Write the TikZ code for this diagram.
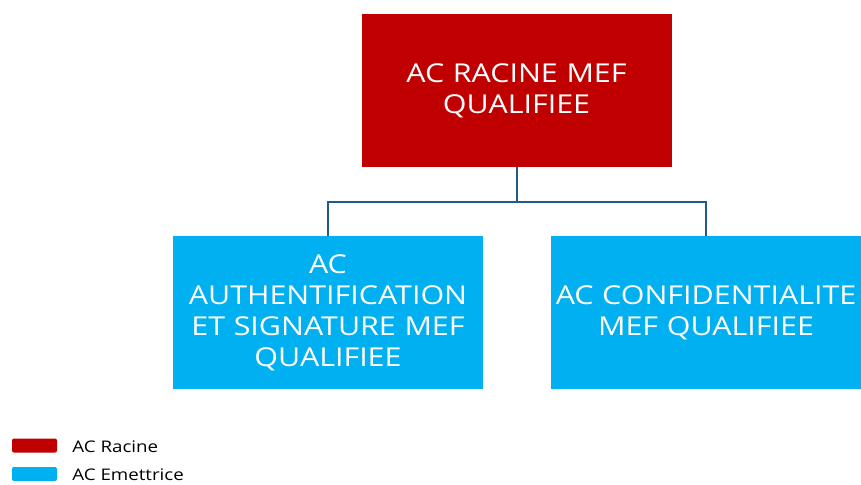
\documentclass[tikz,border=0pt]{standalone}
\usepackage{fontspec}
\setmainfont{Open Sans}[FakeStretch=1.17]
\usetikzlibrary{positioning}
\definecolor{racine}{HTML}{C00000}
\definecolor{emettrice}{HTML}{00B0F0}
\definecolor{linkblue}{HTML}{1F5A88}

\begin{document}
\begin{tikzpicture}[
    x=1pt, y=1pt,
    node distance=69pt,
    box/.style={rectangle, minimum width=310pt, minimum height=153pt, text width=310pt, align=center, text=white, font=\fontsize{26}{31}\selectfont, inner sep=0pt},
    swatch/.style={rectangle, rounded corners=2pt, minimum width=45pt, minimum height=14pt, inner sep=0pt},
    legtext/.style={right=15pt, yshift=-1pt, font=\fontsize{16}{19}\selectfont, inner sep=0pt},
    link/.style={draw=linkblue, line width=2pt}
]
\useasboundingbox (0,0) rectangle (861,-484);

\node[box, fill=racine] (root) at (516.5,-90.5) {AC RACINE MEF\\QUALIFIEE};
\node[box, fill=emettrice, below=of root, xshift=-188.5pt] (auth) {AC\\AUTHENTIFICATION\\ET SIGNATURE MEF\\QUALIFIEE};
\node[box, fill=emettrice, below=of root, xshift=189.5pt] (conf) {AC CONFIDENTIALITE\\MEF QUALIFIEE};

\draw[link] (root.south) -- ++(0,-35pt) -| (auth.north);
\draw[link] (root.south) -- ++(0,-35pt) -| (conf.north);

% legend
\node[swatch, fill=racine] (legroot) at (34.5,-445.5) {};
\node[swatch, fill=emettrice] (legemet) at (34.5,-474) {};
\node[legtext] at (legroot.east) {AC Racine};
\node[legtext] at (legemet.east) {AC Emettrice};

\end{tikzpicture}
\end{document}
